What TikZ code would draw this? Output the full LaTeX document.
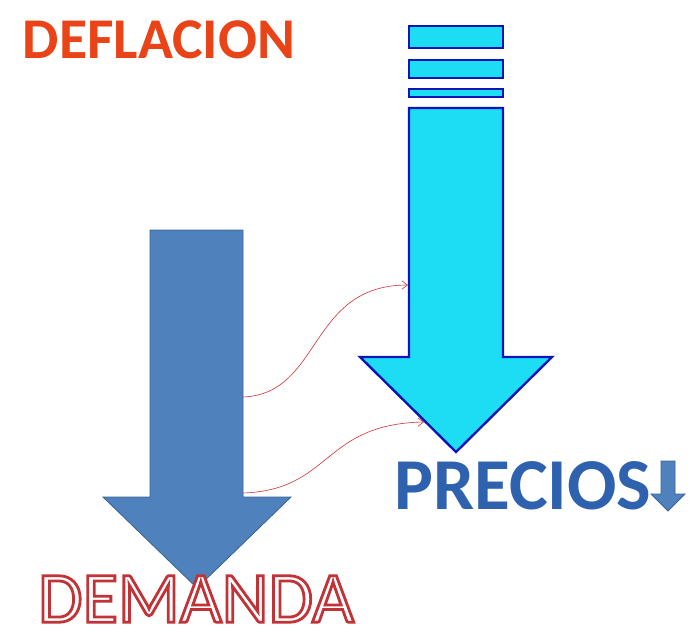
\documentclass[tikz,border=0pt]{standalone}
\usepackage{fontspec}
\setmainfont{Carlito}
\usetikzlibrary{arrows.meta}

\definecolor{rojotitulo}{HTML}{EA4317}
\definecolor{azuldemanda}{HTML}{4F81BD}
\definecolor{bordedemanda}{HTML}{3A6593}
\definecolor{cianprecios}{HTML}{1CDDF4}
\definecolor{bordeprecios}{HTML}{0A14B8}
\definecolor{rojoenlace}{HTML}{D2383C}
\definecolor{azulprecios}{HTML}{2F62AE}

% letras huecas: relleno blanco, trazo rojo
\newcommand\contorno[1]{\special{pdf:literal direct q 2 Tr 2 w 1 1 1 rg 0.76 0.2 0.22 RG}#1\special{pdf:literal direct Q}}

\tikzset{flechaazul/.style = {fill=azuldemanda, draw=bordedemanda, line width=0.6pt},
         flechacian/.style = {fill=cianprecios, draw=bordeprecios, line width=1.7pt},
         enlace/.style = {draw=rojoenlace, line width=0.45pt, -{Straight Barb[length=4pt,width=6pt]}},
         rotulo/.style = {inner sep=0pt, font=\bfseries}
        }

\begin{document}
\begin{tikzpicture}[x=0.025cm, y=-0.025cm]
\useasboundingbox (0,0) rectangle (698,640);
% flecha de la demanda
\draw[flechaazul] (150,230) -- (243,230) -- (243,497) -- (291,497) -- (197,588) -- (103,497) -- (150,497) -- cycle;
% flecha de los precios, con sus franjas
\foreach \a/\b in {26/48, 60/78, 89/97}
   \draw[flechacian] (409,\a) rectangle (503,\b);
\draw[flechacian] (409,108) -- (503,108) -- (503,357) -- (552,357) -- (456,452) -- (360,357) -- (409,357) -- cycle;
\coordinate (d1) at (243,397);
\coordinate (d2) at (243,493);
\coordinate (p1) at (408,285);
\coordinate (p2) at (424,422);
\draw[enlace] (d1) .. controls (322,394) and (308,285) .. (p1);
\draw[enlace] (d2) .. controls (332,490) and (322,424) .. (p2);
% textos
\node[rotulo, text=rojotitulo, font=\bfseries\fontsize{41}{41}\selectfont] (tit) at (159,40) {DEFLACION};
\node[rotulo, font=\fontsize{51.5}{51.5}\selectfont] (dem) at (196,599) {\contorno{DEMANDA}};
\node[rotulo, text=azulprecios, font=\bfseries\fontsize{52}{52}\selectfont] (pre) at (523,486) {PRECIOS};
\draw[flechaazul] (661,461) -- (675,461) -- (675,494) -- (685,494) -- (668,511) -- (651,494) -- (661,494) -- cycle;
\end{tikzpicture}
\end{document}
